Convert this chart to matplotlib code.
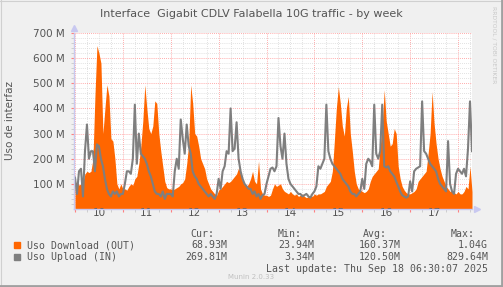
import matplotlib
matplotlib.use("Agg")
import matplotlib.pyplot as plt
import numpy as np
from matplotlib.patches import Rectangle

# ---------------- data (values in M, hourly from Sep 10 00:00) ----------------
download_m = [
    100, 110, 95, 100, 110, 140, 150, 145, 150, 200, 450, 650, 620, 580, 300, 400, 494, 450, 280, 270, 200, 100, 80, 100,   # Sep 10
    80, 80, 75, 90, 100, 95, 120, 130, 180, 250, 350, 494, 400, 320, 300, 330, 430, 420, 300, 230, 170, 110, 85, 80,        # Sep 11
    80, 75, 80, 85, 90, 100, 105, 120, 180, 260, 494, 420, 300, 290, 250, 200, 180, 160, 120, 100, 80, 70, 60, 55,          # Sep 12
    75, 80, 90, 100, 110, 105, 110, 120, 130, 140, 164, 140, 110, 95, 90, 100, 120, 150, 110, 100, 191, 80, 60, 55,         # Sep 13
    55, 50, 55, 80, 100, 90, 95, 100, 80, 70, 65, 60, 70, 60, 55, 60, 50, 55, 60, 50, 45, 50, 55, 50,                       # Sep 14
    60, 55, 60, 60, 65, 70, 90, 100, 110, 150, 270, 400, 487, 420, 330, 290, 400, 448, 300, 230, 150, 100, 80, 75,          # Sep 15
    70, 65, 70, 80, 110, 130, 140, 150, 160, 250, 330, 474, 350, 300, 250, 260, 320, 300, 170, 120, 90, 75, 65, 60,         # Sep 16
    60, 65, 70, 80, 110, 120, 130, 140, 150, 220, 300, 467, 340, 260, 200, 160, 130, 110, 90, 80, 70, 70, 65, 60,           # Sep 17
    70, 60, 60, 70, 90, 80, 170, 69,                                                                                        # Sep 18
]
upload_m = [
    125, 60, 150, 160, 50, 230, 336, 200, 230, 230, 150, 257, 250, 200, 170, 120, 80, 60, 50, 70, 60, 70, 50, 60,           # Sep 10
    60, 100, 150, 150, 140, 200, 415, 180, 300, 220, 210, 200, 180, 150, 130, 100, 70, 60, 60, 50, 70, 40, 60, 60,          # Sep 11
    60, 50, 150, 200, 160, 356, 280, 220, 336, 250, 220, 150, 130, 120, 100, 90, 80, 70, 60, 50, 60, 50, 40, 60,            # Sep 12
    120, 80, 150, 170, 230, 220, 400, 230, 240, 345, 200, 150, 120, 100, 90, 80, 80, 60, 70, 50, 60, 40, 55, 60,            # Sep 13
    100, 130, 160, 165, 150, 170, 362, 250, 200, 300, 180, 120, 100, 90, 80, 70, 60, 60, 50, 55, 60, 50, 45, 60,            # Sep 14
    70, 90, 170, 160, 180, 200, 415, 230, 200, 180, 170, 160, 150, 140, 120, 110, 100, 90, 70, 60, 60, 50, 60, 70,          # Sep 15
    120, 80, 180, 200, 190, 170, 415, 220, 200, 230, 415, 170, 165, 170, 150, 140, 130, 110, 90, 70, 55, 50, 45, 50,        # Sep 16
    110, 70, 150, 160, 165, 170, 428, 230, 220, 200, 180, 170, 160, 150, 120, 100, 90, 80, 70, 270, 100, 70, 60, 140,       # Sep 17
    160, 150, 140, 160, 130, 240, 428, 230,                                                                                 # Sep 18
]
day_labels = ["10", "11", "12", "13", "14", "15", "16", "17"]
y_tick_values = [100, 200, 300, 400, 500, 600, 700]
y_tick_labels = ["100 M", "200 M", "300 M", "400 M", "500 M", "600 M", "700 M"]

series_names = ["Uso Download (OUT)", "Uso Upload (IN)"]
cur_vals = ["68.93M", "269.81M"]
min_vals = ["23.94M", "3.34M"]
avg_vals = ["160.37M", "120.50M"]
max_vals = ["1.04G", "829.64M"]

title = "Interface  Gigabit CDLV Falabella 10G traffic - by week"
ylabel = "Uso de interfaz"
last_update = "Last update: Thu Sep 18 06:30:07 2025"

# ---------------- figure ----------------
W, H = 503, 287
fig = plt.figure(figsize=(W / 100, H / 100), dpi=100, facecolor="#f0f0f0")

def fx(px):
    return px / W

def fy(py):
    return 1 - py / H

ORANGE = "#ff6600"
GREY = "#7f7f7f"
TXT = "#555555"

x0, x1, ytop, ybot = 74, 472, 33, 209
ax = fig.add_axes([fx(x0), fy(ybot), (x1 - x0) / W, (ybot - ytop) / H])
ax.set_facecolor("white")

hours = np.arange(len(download_m))
ax.set_xlim(-0.5, 199)
ax.set_ylim(0, 700)

# grid
for h in range(0, 200, 6):
    major = h % 24 == 0
    ax.axvline(h, color="#ff9090" if major else "#d8d8d8", lw=0.6,
               ls=(0, (1, 1.5)), zorder=1)
for v in range(20, 701, 20):
    major = v % 100 == 0
    ax.axhline(v, color="#ff9090" if major else "#d8d8d8", lw=0.6,
               ls=(0, (1, 1.5)), zorder=1)

ax.fill_between(hours, np.array(download_m), 0, color=ORANGE, lw=0, zorder=3)
ax.plot(hours, np.array(upload_m), color=GREY, lw=1.5, zorder=4)

for s in ["top", "right"]:
    ax.spines[s].set_visible(False)
for s in ["left", "bottom"]:
    ax.spines[s].set_color("#c8c8f0")
    ax.spines[s].set_linewidth(1.0)
    ax.spines[s].set_zorder(5)

ax.set_yticks(y_tick_values)
ax.set_yticklabels(y_tick_labels)
ax.set_yticks(list(range(20, 700, 20)), minor=True)
ax.tick_params(axis="y", which="major", length=2, color="#ff8080", labelsize=7.5,
               labelcolor=TXT, pad=5)
ax.tick_params(axis="y", which="minor", length=2, color="#c8c8c8")

ax.set_xticks(list(range(0, 200, 24)))
ax.set_xticklabels([""] * len(range(0, 200, 24)))
ax.set_xticks(list(range(0, 200, 6)), minor=True)
ax.tick_params(axis="x", which="major", length=2, color="#ff8080")
ax.tick_params(axis="x", which="minor", length=2, color="#c8c8c8")
for i, lab in enumerate(day_labels):
    ax.text(12 + 24 * i, -14, lab, ha="center", va="center", fontsize=7.5,
            color=TXT, clip_on=False)

# axis arrows
ax.plot([-0.5], [718], marker="^", ms=4, color="#c8c8f0", clip_on=False, zorder=6)
ax.plot([201.5], [0], marker=">", ms=4, color="#c8c8f0", clip_on=False, zorder=6)

# texts
fig.text(fx(251), fy(14), title, ha="center", va="center", fontsize=8, color=TXT)
fig.text(fx(10), fy(121), ylabel, ha="center", va="center", rotation=90,
         fontsize=7.5, color=TXT)
fig.text(fx(494), fy(6), "RRDTOOL / TOBI OETIKER", ha="center", va="top",
         rotation=270, fontsize=4.3, color="#c8c8c8")

mono = dict(family="DejaVu Sans Mono", fontsize=7.1, color=TXT)
for lab, cx in zip(["Cur:", "Min:", "Avg:", "Max:"], [202, 290, 375, 463]):
    fig.text(fx(cx), fy(234), lab, ha="center", va="center", **mono)

colors = [ORANGE, GREY]
rows_y = [245, 257]
for i in range(2):
    yy = rows_y[i]
    fig.patches.append(Rectangle((fx(14), fy(yy + 3)), 6 / W, 6 / H,
                                 transform=fig.transFigure, color=colors[i]))
    fig.text(fx(27), fy(yy), series_names[i], ha="left", va="center", **mono)
    for vals, rx in zip([cur_vals, min_vals, avg_vals, max_vals], [227, 314, 401, 488]):
        fig.text(fx(rx), fy(yy), vals[i], ha="right", va="center", **mono)
fig.text(fx(488), fy(269), last_update, ha="right", va="center", **mono)
fig.text(fx(251), fy(277), "Munin 2.0.33", ha="center", va="center",
         fontsize=5, color="#c0c0c0")

# frame
fig.add_artist(plt.Line2D([fx(0.5), fx(0.5)], [0, 1], transform=fig.transFigure,
                          color="#d0d0d0", lw=0.8))
fig.add_artist(plt.Line2D([0, 1], [fy(0.5), fy(0.5)], transform=fig.transFigure,
                          color="#d0d0d0", lw=0.8))
fig.add_artist(plt.Line2D([fx(501.5), fx(501.5)], [0, 1], transform=fig.transFigure,
                          color="#a0a0a0", lw=2))
fig.add_artist(plt.Line2D([0, 1], [fy(285.5), fy(285.5)], transform=fig.transFigure,
                          color="#a0a0a0", lw=2))

fig.savefig("out.png", dpi=100, facecolor=fig.get_facecolor())
